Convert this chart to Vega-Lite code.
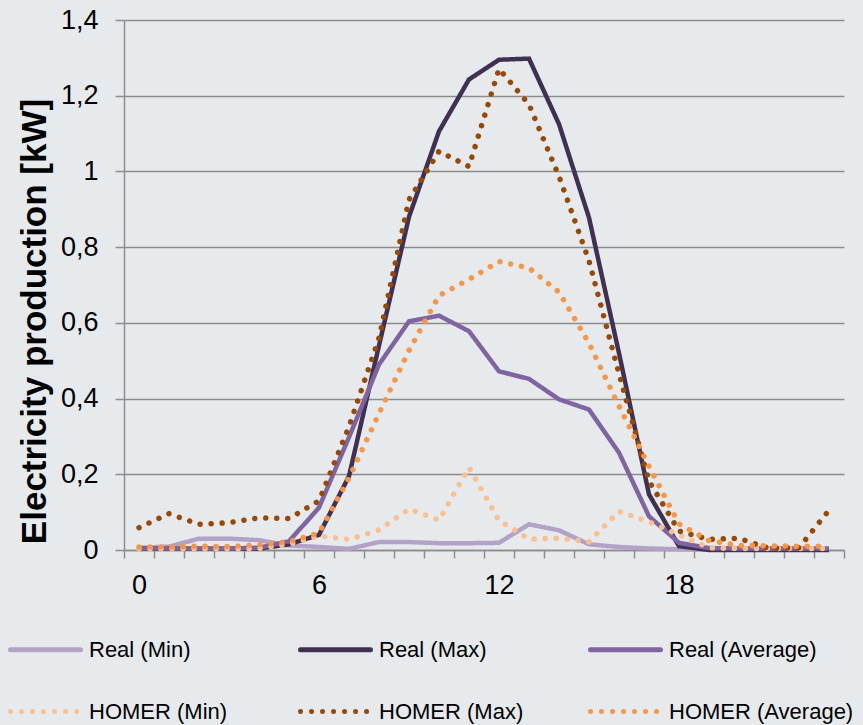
{
  "$schema": "https://vega.github.io/schema/vega-lite/v6.json",
  "width": 720,
  "height": 530,
  "autosize": {"type": "none"},
  "padding": {"left": 124, "top": 20, "right": 19, "bottom": 175},
  "background": "#e7eaec",
  "config": {"view": {"stroke": null}, "font": "Liberation Sans"},
  "datasets": {
    "d": [
      {"hour":0,"series":"Real (Min)","kW":0.006},{"hour":1,"series":"Real (Min)","kW":0.009},{"hour":2,"series":"Real (Min)","kW":0.03},{"hour":3,"series":"Real (Min)","kW":0.03},{"hour":4,"series":"Real (Min)","kW":0.026},{"hour":5,"series":"Real (Min)","kW":0.012},{"hour":6,"series":"Real (Min)","kW":0.008},{"hour":7,"series":"Real (Min)","kW":0.003},{"hour":8,"series":"Real (Min)","kW":0.021},{"hour":9,"series":"Real (Min)","kW":0.021},{"hour":10,"series":"Real (Min)","kW":0.018},{"hour":11,"series":"Real (Min)","kW":0.018},{"hour":12,"series":"Real (Min)","kW":0.019},{"hour":13,"series":"Real (Min)","kW":0.068},{"hour":14,"series":"Real (Min)","kW":0.052},{"hour":15,"series":"Real (Min)","kW":0.015},{"hour":16,"series":"Real (Min)","kW":0.008},{"hour":17,"series":"Real (Min)","kW":0.004},{"hour":18,"series":"Real (Min)","kW":0.002},{"hour":19,"series":"Real (Min)","kW":0.001},{"hour":20,"series":"Real (Min)","kW":0.001},{"hour":21,"series":"Real (Min)","kW":0.001},{"hour":22,"series":"Real (Min)","kW":0.001},{"hour":23,"series":"Real (Min)","kW":0.001},
      {"hour":0,"series":"Real (Max)","kW":0.003},{"hour":1,"series":"Real (Max)","kW":0.003},{"hour":2,"series":"Real (Max)","kW":0.003},{"hour":3,"series":"Real (Max)","kW":0.003},{"hour":4,"series":"Real (Max)","kW":0.004},{"hour":5,"series":"Real (Max)","kW":0.015},{"hour":6,"series":"Real (Max)","kW":0.04},{"hour":7,"series":"Real (Max)","kW":0.195},{"hour":8,"series":"Real (Max)","kW":0.54},{"hour":9,"series":"Real (Max)","kW":0.88},{"hour":10,"series":"Real (Max)","kW":1.106},{"hour":11,"series":"Real (Max)","kW":1.243},{"hour":12,"series":"Real (Max)","kW":1.295},{"hour":13,"series":"Real (Max)","kW":1.298},{"hour":14,"series":"Real (Max)","kW":1.125},{"hour":15,"series":"Real (Max)","kW":0.878},{"hour":16,"series":"Real (Max)","kW":0.52},{"hour":17,"series":"Real (Max)","kW":0.147},{"hour":18,"series":"Real (Max)","kW":0.01},{"hour":19,"series":"Real (Max)","kW":0.0},{"hour":20,"series":"Real (Max)","kW":0.0},{"hour":21,"series":"Real (Max)","kW":0.0},{"hour":22,"series":"Real (Max)","kW":0.0},{"hour":23,"series":"Real (Max)","kW":0.0},
      {"hour":0,"series":"Real (Average)","kW":0.004},{"hour":1,"series":"Real (Average)","kW":0.004},{"hour":2,"series":"Real (Average)","kW":0.004},{"hour":3,"series":"Real (Average)","kW":0.004},{"hour":4,"series":"Real (Average)","kW":0.006},{"hour":5,"series":"Real (Average)","kW":0.023},{"hour":6,"series":"Real (Average)","kW":0.112},{"hour":7,"series":"Real (Average)","kW":0.298},{"hour":8,"series":"Real (Average)","kW":0.49},{"hour":9,"series":"Real (Average)","kW":0.604},{"hour":10,"series":"Real (Average)","kW":0.619},{"hour":11,"series":"Real (Average)","kW":0.578},{"hour":12,"series":"Real (Average)","kW":0.472},{"hour":13,"series":"Real (Average)","kW":0.452},{"hour":14,"series":"Real (Average)","kW":0.398},{"hour":15,"series":"Real (Average)","kW":0.371},{"hour":16,"series":"Real (Average)","kW":0.257},{"hour":17,"series":"Real (Average)","kW":0.089},{"hour":18,"series":"Real (Average)","kW":0.019},{"hour":19,"series":"Real (Average)","kW":0.005},{"hour":20,"series":"Real (Average)","kW":0.004},{"hour":21,"series":"Real (Average)","kW":0.004},{"hour":22,"series":"Real (Average)","kW":0.004},{"hour":23,"series":"Real (Average)","kW":0.004},
      {"hour":0,"series":"HOMER (Min)","kW":0.003},{"hour":1,"series":"HOMER (Min)","kW":0.003},{"hour":2,"series":"HOMER (Min)","kW":0.003},{"hour":3,"series":"HOMER (Min)","kW":0.003},{"hour":4,"series":"HOMER (Min)","kW":0.004},{"hour":5,"series":"HOMER (Min)","kW":0.015},{"hour":6,"series":"HOMER (Min)","kW":0.037},{"hour":7,"series":"HOMER (Min)","kW":0.028},{"hour":8,"series":"HOMER (Min)","kW":0.053},{"hour":9,"series":"HOMER (Min)","kW":0.108},{"hour":10,"series":"HOMER (Min)","kW":0.079},{"hour":11,"series":"HOMER (Min)","kW":0.218},{"hour":12,"series":"HOMER (Min)","kW":0.078},{"hour":13,"series":"HOMER (Min)","kW":0.029},{"hour":14,"series":"HOMER (Min)","kW":0.031},{"hour":15,"series":"HOMER (Min)","kW":0.022},{"hour":16,"series":"HOMER (Min)","kW":0.102},{"hour":17,"series":"HOMER (Min)","kW":0.074},{"hour":18,"series":"HOMER (Min)","kW":0.04},{"hour":19,"series":"HOMER (Min)","kW":0.006},{"hour":20,"series":"HOMER (Min)","kW":0.004},{"hour":21,"series":"HOMER (Min)","kW":0.004},{"hour":22,"series":"HOMER (Min)","kW":0.004},{"hour":23,"series":"HOMER (Min)","kW":0.004},
      {"hour":0,"series":"HOMER (Max)","kW":0.059},{"hour":1,"series":"HOMER (Max)","kW":0.096},{"hour":2,"series":"HOMER (Max)","kW":0.068},{"hour":3,"series":"HOMER (Max)","kW":0.072},{"hour":4,"series":"HOMER (Max)","kW":0.085},{"hour":5,"series":"HOMER (Max)","kW":0.083},{"hour":6,"series":"HOMER (Max)","kW":0.13},{"hour":7,"series":"HOMER (Max)","kW":0.326},{"hour":8,"series":"HOMER (Max)","kW":0.56},{"hour":9,"series":"HOMER (Max)","kW":0.925},{"hour":10,"series":"HOMER (Max)","kW":1.053},{"hour":11,"series":"HOMER (Max)","kW":1.013},{"hour":12,"series":"HOMER (Max)","kW":1.271},{"hour":13,"series":"HOMER (Max)","kW":1.177},{"hour":14,"series":"HOMER (Max)","kW":0.987},{"hour":15,"series":"HOMER (Max)","kW":0.764},{"hour":16,"series":"HOMER (Max)","kW":0.465},{"hour":17,"series":"HOMER (Max)","kW":0.182},{"hour":18,"series":"HOMER (Max)","kW":0.05},{"hour":19,"series":"HOMER (Max)","kW":0.028},{"hour":20,"series":"HOMER (Max)","kW":0.031},{"hour":21,"series":"HOMER (Max)","kW":0.004},{"hour":22,"series":"HOMER (Max)","kW":0.006},{"hour":23,"series":"HOMER (Max)","kW":0.105},
      {"hour":0,"series":"HOMER (Average)","kW":0.008},{"hour":1,"series":"HOMER (Average)","kW":0.008},{"hour":2,"series":"HOMER (Average)","kW":0.01},{"hour":3,"series":"HOMER (Average)","kW":0.009},{"hour":4,"series":"HOMER (Average)","kW":0.014},{"hour":5,"series":"HOMER (Average)","kW":0.022},{"hour":6,"series":"HOMER (Average)","kW":0.045},{"hour":7,"series":"HOMER (Average)","kW":0.19},{"hour":8,"series":"HOMER (Average)","kW":0.361},{"hour":9,"series":"HOMER (Average)","kW":0.527},{"hour":10,"series":"HOMER (Average)","kW":0.672},{"hour":11,"series":"HOMER (Average)","kW":0.715},{"hour":12,"series":"HOMER (Average)","kW":0.762},{"hour":13,"series":"HOMER (Average)","kW":0.745},{"hour":14,"series":"HOMER (Average)","kW":0.681},{"hour":15,"series":"HOMER (Average)","kW":0.546},{"hour":16,"series":"HOMER (Average)","kW":0.38},{"hour":17,"series":"HOMER (Average)","kW":0.221},{"hour":18,"series":"HOMER (Average)","kW":0.069},{"hour":19,"series":"HOMER (Average)","kW":0.025},{"hour":20,"series":"HOMER (Average)","kW":0.012},{"hour":21,"series":"HOMER (Average)","kW":0.011},{"hour":22,"series":"HOMER (Average)","kW":0.01},{"hour":23,"series":"HOMER (Average)","kW":0.01}
    ]
  },
  "data": {"name": "d"},
  "encoding": {
    "x": {
      "field": "hour", "type": "quantitative",
      "scale": {"domain": [-0.5, 23.5], "nice": false, "zero": false},
      "axis": {
        "title": null, "grid": false,
        "values": [-0.5,0.5,1.5,2.5,3.5,4.5,5.5,6.5,7.5,8.5,9.5,10.5,11.5,12.5,13.5,14.5,15.5,16.5,17.5,18.5,19.5,20.5,21.5,22.5,23.5],
        "labelExpr": "(datum.value + 0.5) % 6 == 0 && datum.value < 23 ? format(datum.value + 0.5, 'd') : ''",
        "labelOffset": 15, "labelFlush": false, "labelOverlap": false, "labelBound": false,
        "labelFont": "Liberation Sans", "labelFontSize": 27, "labelColor": "#000000", "labelPadding": 14,
        "domainColor": "#8c8c8c", "domainWidth": 1.5,
        "tickColor": "#8c8c8c", "tickWidth": 1.5, "tickSize": 8
      }
    },
    "y": {
      "field": "kW", "type": "quantitative",
      "scale": {"domain": [0, 1.4], "nice": false, "zero": true},
      "axis": {
        "values": [0,0.2,0.4,0.6,0.8,1,1.2,1.4],
        "labelExpr": "replace(format(datum.value, '~g'), '.', ',')",
        "labelFont": "Liberation Sans", "labelFontSize": 27, "labelColor": "#000000", "labelPadding": 17,
        "labelFlush": false,
        "grid": true, "gridColor": "#8c8c8c", "gridWidth": 1.5,
        "domainColor": "#8c8c8c", "domainWidth": 1.5,
        "tickColor": "#8c8c8c", "tickWidth": 1.5, "tickSize": 9,
        "title": "Electricity production [kW]",
        "titleFont": "Liberation Sans", "titleFontSize": 35, "titleFontWeight": "bold", "titleColor": "#000000",
        "titleAngle": 270, "titleBaseline": "alphabetic", "titleAlign": "center",
        "titleX": -79, "titleY": 301
      }
    },
    "color": {
      "field": "series", "type": "nominal",
      "scale": {
        "domain": ["Real (Min)", "Real (Max)", "Real (Average)", "HOMER (Min)", "HOMER (Max)", "HOMER (Average)"],
        "range": ["#b3a2c7", "#403152", "#8064a2", "#fac090", "#984807", "#f79646"]
      },
      "legend": {
        "title": null, "orient": "none", "legendX": -116, "legendY": 592,
        "direction": "horizontal",
        "columns": 3, "gridAlign": "all", "columnPadding": 16, "rowPadding": 13,
        "symbolType": "stroke", "symbolSize": 4900, "symbolStrokeWidth": 5,
        "labelFont": "Liberation Sans", "labelFontSize": 22, "labelColor": "#000000", "labelLimit": 400, "labelOffset": 6,
        "padding": 0,
        "encode": {"symbols": {"update": {"strokeCap": {"value": "round"}}}}
      }
    },
    "strokeDash": {
      "field": "series", "type": "nominal",
      "scale": {
        "domain": ["Real (Min)", "Real (Max)", "Real (Average)", "HOMER (Min)", "HOMER (Max)", "HOMER (Average)"],
        "range": [[1, 0], [1, 0], [1, 0], [0.01, 11], [0.01, 11], [0.01, 11]]
      }
    }
  },
  "layer": [
    {"transform": [{"filter": "indexof(datum.series, 'Real') == 0"}], "mark": {"type": "line", "strokeWidth": 4.5, "strokeCap": "butt", "strokeJoin": "miter"}},
    {"transform": [{"filter": "indexof(datum.series, 'HOMER') == 0"}], "mark": {"type": "line", "strokeWidth": 5.5, "strokeCap": "round"}}
  ]
}
